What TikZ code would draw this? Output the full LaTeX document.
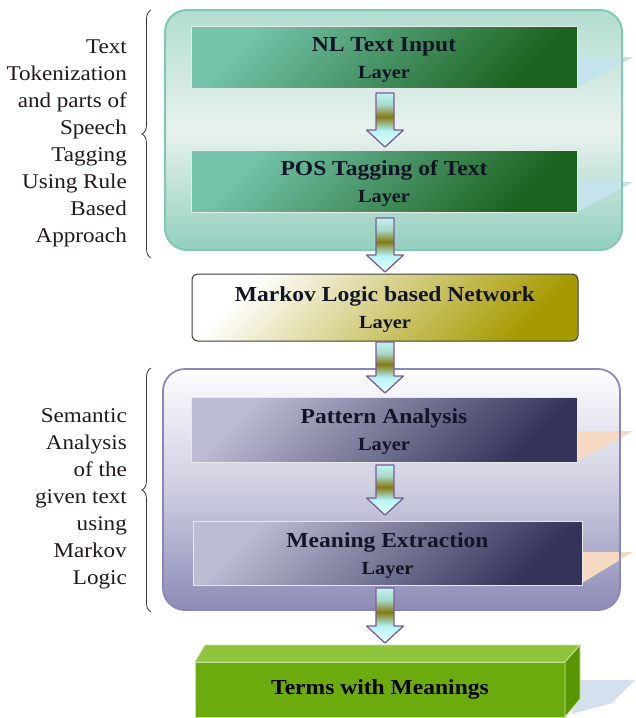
\documentclass[tikz,border=0pt]{standalone}
\usepackage{fontspec}
\setmainfont{Liberation Serif}
\newfontfamily\boxfont[FakeStretch=1.1]{Liberation Serif}
\newfontfamily\sidefont[FakeStretch=1.1]{Liberation Serif}
\usetikzlibrary{calc,decorations.pathreplacing}

\definecolor{cAtop}{HTML}{B2DDD0}
\definecolor{cAmid}{HTML}{E9F2EE}
\definecolor{cAbot}{HTML}{92CFBE}
\definecolor{cAborder}{HTML}{7FCAB6}
\definecolor{cBtop}{HTML}{FDFDFF}
\definecolor{cBmid}{HTML}{CDCDE0}
\definecolor{cBbot}{HTML}{8C8CB7}
\definecolor{cBborder}{HTML}{8886BB}
\definecolor{nlA}{HTML}{74C4AC}
\definecolor{nlB}{HTML}{1B621E}
\definecolor{mkA}{HTML}{FFFFFF}
\definecolor{mkB}{HTML}{A69A00}
\definecolor{paA}{HTML}{BCBCD4}
\definecolor{paB}{HTML}{34345A}
\definecolor{decoBlue}{HTML}{C5E3EA}
\definecolor{decoPeach}{HTML}{F5D9C3}
\definecolor{termFront}{HTML}{6CAB0E}
\definecolor{termTop}{HTML}{90C43F}
\definecolor{termSide}{HTML}{5A9503}
\definecolor{termEdge}{HTML}{C8E49A}
\definecolor{shadowBlue}{HTML}{D5E0EE}
\definecolor{arwtip}{HTML}{E8FFFF}
\definecolor{arwhead}{HTML}{B8F4F4}
\definecolor{arwlow}{HTML}{A8E4DC}
\definecolor{arwolive}{HTML}{857A12}
\definecolor{arwup}{HTML}{A8D8C8}
\definecolor{arwtop}{HTML}{C0F4F4}
\definecolor{arwborder}{HTML}{7B5D98}
\definecolor{txtdark}{HTML}{141428}
\definecolor{sidetxt}{HTML}{221A18}

\pgfdeclareverticalshading{arrowshade}{100bp}{color(0bp)=(arwtip); color(25bp)=(arwtip); color(40bp)=(arwhead); color(42bp)=(arwlow); color(53bp)=(arwolive); color(64bp)=(arwup); color(75bp)=(arwtop); color(100bp)=(arwtop)}

\tikzset{
  container/.style={rounded corners=22pt, inner sep=0pt, outer sep=0pt, draw=none},
  layerbox/.style={draw=white!82!gray, line width=0.8pt, minimum width=386pt, minimum height=62pt,
    inner sep=0pt, outer sep=0pt, align=center, text=txtdark, font=\boxfont\bfseries\fontsize{21.4}{27}\selectfont},
  greenlayer/.style={layerbox, top color=nlA, bottom color=nlB, shading angle=45},
  purplelayer/.style={layerbox, top color=paA, bottom color=paB, shading angle=45},
  markovbox/.style={layerbox, draw=black!75, line width=1pt, rounded corners=6pt,
    top color=mkA, bottom color=mkB, shading angle=45},
  termsfront/.style={fill=termFront, draw=termEdge, line width=0.8pt, minimum width=370pt,
    minimum height=55pt, inner sep=0pt, outer sep=0pt, text=black, font=\boxfont\bfseries\fontsize{21.4}{24}\selectfont},
  arrowbody/.style={shade, shading=arrowshade, draw=arwborder, line width=1.3pt, line join=round},
  sidelabel/.style={align=right, inner sep=0pt, text=sidetxt, font=\sidefont\fontsize{21}{27}\selectfont},
  bracestyle/.style={decorate, decoration={brace, amplitude=9pt}, draw=black!80, line width=0.8pt}
}

\newcommand{\ttl}[1]{{\fontsize{21.4}{27}\selectfont\rule{0pt}{19pt}#1}}
\newcommand{\lyr}[1]{{\fontsize{18.5}{27}\selectfont #1}}
\newcommand{\blockarrow}[2]{\path[arrowbody] let \p1=#1, \p2=#2 in
  (\x1-9pt,\y1) -- (\x1+9pt,\y1) -- (\x1+9pt,\y2+17pt) -- (\x1+18.5pt,\y2+17pt) --
  (\x1,\y2) -- (\x1-18.5pt,\y2+17pt) -- (\x1-9pt,\y2+17pt) -- cycle;}

\begin{document}
\begin{tikzpicture}[x=1pt,y=-1pt]
\useasboundingbox (0,0) rectangle (635,718);
\fill[white] (0,0) rectangle (635,718);

% group containers
\node[container, top color=cAtop, bottom color=cAbot, middle color=cAmid,
  minimum width=457pt, minimum height=240pt] (grpA) at (393.5,130) {};
\node[container, top color=cBtop, bottom color=cBbot, middle color=cBmid,
  minimum width=457pt, minimum height=241pt] (grpB) at (391.5,489.5) {};

% light reflections
\fill[decoBlue] (577,57) -- (633,57) -- (577,88) -- cycle;
\fill[decoBlue] (577,182) -- (633,182) -- (577,212) -- cycle;
\fill[decoPeach] (577,431) -- (633,431) -- (577,461) -- cycle;
\fill[decoPeach] (582,552) -- (633,552) -- (582,583) -- cycle;

% container borders
\draw[cAborder, line width=2pt, rounded corners=22pt] (grpA.north west) rectangle (grpA.south east);
\draw[cBborder, line width=1.8pt, rounded corners=22pt] (grpB.north west) rectangle (grpB.south east);

% layers
\node[greenlayer] (nl) at (384,57) {\ttl{NL Text Input}\\\lyr{Layer}};
\node[greenlayer] (pos) at (384,181) {\ttl{POS Tagging of Text}\\\lyr{Layer}};
\node[markovbox, minimum height=67pt] (mk) at (385,307.5) {\ttl{Markov Logic based Network}\\\lyr{Layer}};
\node[purplelayer, minimum height=65pt] (pat) at (384,429.5) {\ttl{Pattern Analysis}\\\lyr{Layer}};
\node[purplelayer, minimum width=389pt, minimum height=64pt] (mean) at (387.5,553) {\ttl{Meaning Extraction}\\\lyr{Layer}};

% 3D result block
\fill[shadowBlue] (578,680) -- (635,680) -- (612,703) -- (572,714) -- cycle;
\node[termsfront] (terms) at (380,689.5) {Terms with Meanings};
\fill[termTop, draw=termEdge, line width=0.8pt] (terms.north west) -- (205,645) -- (580,645) -- (terms.north east) -- cycle;
\fill[termSide, draw=termEdge, line width=0.8pt] (terms.north east) -- (580,645) -- (580,699) -- (terms.south east) -- cycle;

% block arrows
\blockarrow{($(nl.south)+(1,5)$)}{($(pos.north)+(1,-3)$)}
\blockarrow{($(pos.south)+(1,6)$)}{($(mk.north)+(0,-2)$)}
\blockarrow{($(mk.south)+(0,1)$)}{($(pat.north)+(1,-4)$)}
\blockarrow{($(pat.south)+(1,3)$)}{($(mean.north)+(-2.5,-6)$)}
\blockarrow{($(mean.south)+(-2.5,3)$)}{($(terms.north)+(5,-19)$)}

% braces and side labels
\coordinate (bA1) at (151,258);
\coordinate (bA2) at (151,10);
\coordinate (bB1) at (151,612);
\coordinate (bB2) at (151,368);
\draw[bracestyle] (bA1) -- (bA2);
\draw[bracestyle] (bB1) -- (bB2);
\node[sidelabel, anchor=east] (lblA) at (127,143) {Text\\Tokenization\\and parts  of\\Speech\\Tagging\\Using Rule\\Based\\Approach};
\node[sidelabel, anchor=east] (lblB) at (127,499) {Semantic\\Analysis\\of the\\given text\\using\\Markov\\Logic};
\end{tikzpicture}
\end{document}
